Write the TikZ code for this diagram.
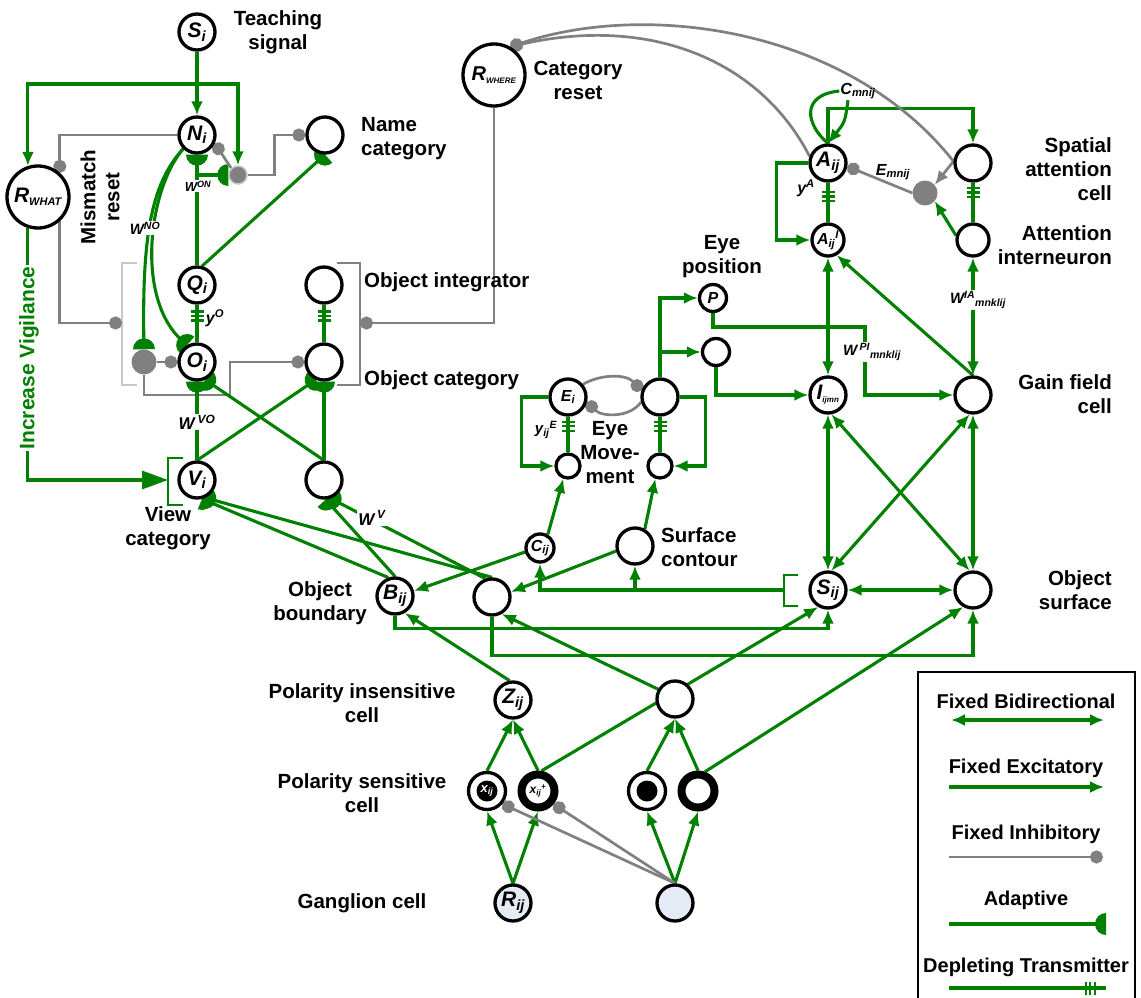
\documentclass[tikz,border=0pt]{standalone}
\usepackage{fontspec}
\setmainfont{Liberation Sans}
\usetikzlibrary{arrows.meta,positioning,decorations.markings}

\definecolor{ggreen}{HTML}{008000}
\definecolor{ggray}{HTML}{808080}
\definecolor{lgray}{HTML}{C8C8C8}
\definecolor{gcell}{HTML}{E4EBF5}

\pgfdeclarelayer{bg}
\pgfsetlayers{bg,main}

% adaptive synapse: half disc, flat side on the target
\pgfdeclarearrow{
  name = HalfDisc,
  parameters = {\the\pgfarrowlength},
  setup code = {
    \pgfarrowssettipend{0pt}
    \pgfarrowssetlineend{-.5\pgfarrowlength}
    \pgfarrowssetbackend{-\pgfarrowlength}
    \pgfarrowshullpoint{0pt}{\pgfarrowlength}
    \pgfarrowshullpoint{0pt}{-\pgfarrowlength}
    \pgfarrowshullpoint{-\pgfarrowlength}{0pt}
    \pgfarrowssavethe\pgfarrowlength
  },
  drawing code = {
    \pgfpathmoveto{\pgfqpoint{0pt}{\pgfarrowlength}}
    \pgfpatharc{90}{270}{\pgfarrowlength}
    \pgfpathclose
    \pgfusepathqfill
  },
  defaults = {length = 10pt}
}

\tikzset{
  cell/.style    = {draw, circle, line width=3.3pt, fill=white, inner sep=0pt,
                    minimum size=36pt, font=\fontsize{21}{21}\selectfont\bfseries\itshape},
  smalltext/.style = {font=\fontsize{16}{16}\selectfont\bfseries\itshape},
  small/.style   = {cell, minimum size=24pt},
  big/.style     = {cell, minimum size=62pt},
  ring/.style    = {cell, line width=8pt, minimum size=33pt,
                    font=\fontsize{12}{12}\selectfont\bfseries\itshape},
  core/.style    = {circle, fill=black, inner sep=0pt, minimum size=21pt,
                    font=\fontsize{13}{13}\selectfont\bfseries\itshape},
  retina/.style  = {cell, fill=gcell},
  gdot/.style    = {circle, fill=ggray, inner sep=0pt, minimum size=25pt},
  lbl/.style     = {font=\fontsize{20.5}{24}\selectfont\bfseries, align=center, inner sep=1pt},
  legtext/.style = {font=\fontsize{20}{20}\selectfont\bfseries, inner sep=1pt},
  wt/.style      = {font=\fontsize{#1}{#1}\selectfont\bfseries\itshape, inner sep=1pt},
  wt/.default    = 16,
  wtmask/.style  = {wt=#1, fill=white},
  wtmask/.default = 16,
  wire/.style    = {draw=ggreen, line width=3.1pt},
  exc/.style     = {wire, ->},
  bidir/.style   = {wire, <->},
  adapt/.style   = {wire, -{HalfDisc[length=11pt]}},
  inh/.style     = {draw=ggray, line width=2.7pt, -{Circle[length=13pt]}},
  depl/.style    = {wire, postaction={decorate, decoration={markings,
                    mark=at position #1 with {\draw[ggreen, line width=2.3pt]
                    (-4.5pt,-6.5pt) -- (-4.5pt,6.5pt) (0pt,-6.5pt) -- (0pt,6.5pt) (4.5pt,-6.5pt) -- (4.5pt,6.5pt);}}}},
  >={Latex[length=14pt,width=12pt]}
}

\begin{document}
\begin{tikzpicture}[x=1pt, y=-1pt]
\useasboundingbox (0,0) rectangle (1141,998);

% what stream
\node[cell] (si) at (197,32) {S\textsubscript{i}};
\node[cell] (ni) at (197,135) {N\textsubscript{i}};
\node[cell] (name) at (325,135) {};
\node[big] (rwhat) at (38,197) {R\textsubscript{\fontsize{11}{11}\selectfont WHAT}};
\node[cell] (qi) at (197,285) {Q\textsubscript{i}};
\node[cell] (oint) at (324,285) {};
\node[cell] (oi) at (197,362) {O\textsubscript{i}};
\node[cell] (ocat) at (324,362) {};
\node[cell] (vi) at (197,480) {V\textsubscript{i}};
\node[cell] (v2) at (324,480) {};
\node[gdot, minimum size=18pt, draw=lgray, line width=1.5pt] (jn) at (238,175) {};
\node[gdot] (mdot) at (144,362) {};

% where stream
\node[big, font=\fontsize{20}{20}\selectfont\bfseries\itshape] (rwhere) at (494,75) {R\textsubscript{\fontsize{8}{8}\selectfont WHERE}};
\node[cell] (aij) at (828,163) {A\textsubscript{ij}};
\node[cell, minimum size=32pt, smalltext] (aijI) at (828,240) {A\textsubscript{ij}\textsuperscript{I}};
\node[cell] (spat) at (973,163) {};
\node[cell, minimum size=32pt] (attint) at (973,240) {};
\node[gdot] (edot) at (925,193) {};
\node[cell, minimum size=27pt, smalltext] (pos) at (713,298) {P};
\node[cell, minimum size=27pt] (psm) at (716,352) {};
\node[cell, smalltext] (ei) at (568,397) {E\textsubscript{i}};
\node[cell] (em) at (660,397) {};
\node[small] (eis) at (568,466) {};
\node[small] (ems) at (660,466) {};
\node[cell] (iijmn) at (828,395) {I\textsubscript{\fontsize{8}{8}\selectfont ijmn}};
\node[cell] (gain) at (973,395) {};
\node[cell, minimum size=28pt, smalltext] (cij) at (540,548) {C\textsubscript{ij}};
\node[cell] (scont) at (635,546) {};
\node[cell] (bij) at (395,596) {B\textsubscript{ij}};
\node[cell] (b2) at (492,597) {};
\node[cell] (sij) at (828,590) {S\textsubscript{ij}};
\node[cell] (osurf) at (973,590) {};

% retina and polarity cells
\node[cell] (zij) at (513,700) {Z\textsubscript{ij}};
\node[cell] (z2) at (675,699) {};
\node[cell, minimum size=37pt] (xa) at (487,791) {};
\node[core, text=white] (xai) at (xa) {x\textsubscript{ij}};
\node[ring] (xb) at (538,791) {x\textsubscript{ij}\textsuperscript{+}};
\node[cell, minimum size=37pt] (xc) at (647,791) {};
\node[core] (xci) at (xc) {};
\node[ring] (xd) at (698,791) {};
\node[retina] (rij) at (513,903) {R\textsubscript{ij}};
\node[retina] (r2) at (675,903) {};

% captions
\node[lbl] (tsig) at (278,32) {Teaching\\signal};
\node[lbl, anchor=west, align=left] (ncat) at (360,139) {Name\\category};
\node[lbl, rotate=90] (mres) at (100,197) {Mismatch\\reset};
\node[lbl] (creset) at (578,80) {Category\\reset};
\node[lbl, anchor=west] (ointl) at (363,282) {Object integrator};
\node[lbl, anchor=west] (ocatl) at (363,380) {Object category};
\node[lbl] (vcat) at (168,528) {View\\category};
\node[lbl] (epos) at (722,257) {Eye\\position};
\node[lbl] (emov) at (610,453) {Eye\\Move-\\ment};
\node[lbl, anchor=west, align=left] (scl) at (660,547) {Surface\\contour};
\node[lbl] (obnd) at (320,603) {Object\\boundary};
\node[lbl, anchor=east, align=right] (spl) at (1113,169) {Spatial\\attention\\cell};
\node[lbl, anchor=east, align=right] (atl) at (1113,245) {Attention\\interneuron};
\node[lbl, anchor=east, align=right] (gfl) at (1113,394) {Gain field\\cell};
\node[lbl, anchor=east, align=right] (osl) at (1113,590) {Object\\surface};
\node[lbl] (pins) at (362,703) {Polarity insensitive\\cell};
\node[lbl] (psen) at (362,793) {Polarity sensitive\\cell};
\node[lbl] (gang) at (362,903) {Ganglion cell};
\node[rotate=90, fill=white, text=ggreen, inner sep=2pt,
      font=\fontsize{21}{21}\selectfont\bfseries] (incv) at (29,358) {Increase Vigilance};

% weights
\node[wtmask=13] (won) at (198,186) {W\textsuperscript{ON}};
\node[wtmask=15] (wno) at (145,228) {W\textsuperscript{NO}};
\node[wt] (yo) at (215,318) {y\textsuperscript{O}};
\node[wtmask=17] (wvo) at (197,422) {W\,\textsuperscript{VO}};
\node[wtmask=17] (wv) at (372,518) {W\,\textsuperscript{V}};
\node[wt=15] (yae) at (546,430) {y\textsubscript{ij}\textsuperscript{E}};
\node[wt] (ya) at (806,188) {y\textsuperscript{A}};
\node[wt] (cmn) at (858,91) {C\textsubscript{mnij}};
\node[wt] (emn) at (893,172) {E\textsubscript{mnij}};
\node[wtmask=15] (wia) at (978,300) {W\textsuperscript{IA}\textsubscript{mnklij}};
\node[wtmask=15] (wpi) at (872,352) {W\,\textsuperscript{PI}\textsubscript{mnklij}};

\begin{pgfonlayer}{bg}
% teaching signal, name and object categories
\coordinate (tsplit) at (197,84);
\draw[exc] (si) -- (ni);
\draw[exc] (tsplit) -| (rwhat.108);
\draw[exc] (tsplit) -| (jn.north);
\draw[inh] (ni.west) -| (rwhat.48);
\draw[adapt] (qi.north) -- (ni.south);
\coordinate (nq) at (197,175);
\draw[adapt] (nq) -- (jn.west);
\draw[inh] (jn.135) -- (ni.-25);
\draw[inh] (jn.east) -- ++(27,0) |- (name.west);
\draw[adapt] (qi.75) -- (name.south);
\draw[adapt] (ni.225) .. controls (150,185) and (142,240) .. (mdot.north);
\draw[adapt] (ni.225) .. controls (148,190) and (135,300) .. (oi.120);
\draw[depl=.3] (qi) -- (oi);
\draw[depl=.3] (oint) -- (ocat);

% reset brackets
\draw[lgray, line width=2.7pt] (137,263) -- (122,263) -- (122,385) -- (137,385);
\draw[ggray, line width=2.7pt] (337,263) -- (360,263) -- (360,385) -- (337,385);
\coordinate (lbr) at (122,323);
\coordinate (rbr) at (360,323);
\draw[inh] (rwhat.-48) |- (lbr);
\draw[inh] (rwhere.south) |- (rbr);
\draw[inh] (mdot.east) -- (oi.west);
\draw[inh] (mdot.south) |- (230,395) |- (ocat.west);

% view categories
\draw[adapt] (vi.north) -- (oi.south);
\draw[adapt] (v2.north) -- (oi.-65);
\draw[adapt] (vi.north) -- (ocat.-115);
\draw[adapt] (v2.north) -- (ocat.south);
\draw[ggreen, line width=2.9pt] (183,458) -- (168,458) -- (168,505) -- (183,505);
\coordinate (vbr) at (168,480);
\draw[wire, -{Triangle[length=26pt,width=18pt]}] (rwhat.252) |- (vbr);
\draw[adapt] (bij.110) -- (vi.-75);
\draw[adapt] (b2.north) -- (vi.-65);
\draw[adapt] (bij.north) -- (v2.-85);
\draw[adapt] (b2.110) -- (v2.-70);

% boundaries, surfaces and eye movements
\draw[exc] (cij.195) -- (bij.15);
\draw[exc] (scont.195) -- (b2.15);
\draw[exc] (cij.60) -- (eis.-110);
\draw[exc] (scont.60) -- (ems.-110);
\draw[ggreen, line width=2.9pt] (798,575) -- (784,575) -- (784,606) -- (798,606);
\coordinate (sbr) at (784,590);
\draw[exc] (sbr) -| (cij.south);
\draw[exc] (scont.south |- sbr) -- (scont.south);
\draw[exc] (ei.west) -- ++(-27,0) |- (eis.west);
\draw[exc] (em.east) -- ++(26,0) |- (ems.east);
\draw[depl=.27] (ei) -- (eis);
\draw[depl=.27] (em) -- (ems);
\draw[inh] (ei.40) .. controls (598,375) and (625,373) .. (em.160);
\draw[inh] (em.195) .. controls (630,418) and (602,417) .. (ei.-15);
\draw[exc] (em.north) |- (pos.west);
\draw[exc] (em.north |- psm.west) -- (psm.west);
\draw[exc] (pos.south) |- (865,327) |- (gain.west);
\draw[exc] (psm.south) |- (iijmn.west);

% spatial attention
\draw[exc] (aij.north) -- ++(0,-35) -| (spat.north);
\draw[wire] (aij.north) .. controls (806,125) and (800,95) .. (cmn.west);
\draw[exc] ([xshift=-10pt]cmn.south) .. controls (845,122) .. (aij.north);
\draw[exc] (aij.west) -- ++(-32,0) |- (aijI.west);
\draw[depl=.35] (aij) -- (aijI);
\draw[depl=.25] (spat) -- (attint);
\draw[inh] (edot.west) -- (aij.-10);
\draw[exc] (attint.165) -- (edot.-40);
\draw[inh] (aij.160) .. controls (760,60) and (650,15) .. (rwhere.60);
\draw[draw=ggray, line width=2.7pt, {Circle[length=13pt]}-{Latex[length=14pt,width=12pt]}]
  (rwhere.60) .. controls (650,0) and (850,30) .. (spat.175) -- (edot.40);

% gain fields
\draw[bidir] (aijI) -- (iijmn);
\draw[exc] (gain.north) -- (aijI.-60);
\draw[bidir] (attint) -- (gain);
\foreach \pa/\pb in {iijmn/sij, gain/osurf, sij/osurf}
  \draw[bidir] (\pa) -- (\pb);
\draw[bidir] (iijmn.-80) -- (osurf.100);
\draw[bidir] (gain.-100) -- (sij.80);

% retina up to boundaries and surfaces
\draw[exc] (zij.100) -- (bij.-60);
\draw[exc] (z2.150) -- (b2.-60);
\draw[exc] (xb.80) -- (sij.-120);
\draw[exc] (xd.70) -- (osurf.-120);
\draw[exc] (bij.south) -- ++(0,13) -| (sij.south);
\draw[exc] (b2.south) -- ++(0,39) -| (osurf.south);
\foreach \pa/\pb in {xa/zij, xb/zij, xc/z2, xd/z2}
  \draw[exc] (\pa.north) -- (\pb.south);
\foreach \pa/\pb in {rij/xa, rij/xb, r2/xc, r2/xd}
  \draw[exc] (\pa.north) -- (\pb.south);
\draw[inh] (r2.north) -- (xa.-40);
\draw[inh] (r2.north) -- (xb.-40);
\end{pgfonlayer}

% legend
\draw[line width=1.2pt] (918,1000) -- (918,672) -- (1135,672) -- (1135,1000);
\node[legtext] (lg1) at (1026,701) {Fixed Bidirectional};
\node[legtext] (lg2) at (1026,768) {Fixed Excitatory};
\node[legtext] (lg3) at (1026,834) {Fixed Inhibitory};
\node[legtext] (lg4) at (1026,900) {Adaptive};
\node[legtext] (lg5) at (1026,967) {Depleting Transmitter};
\coordinate (l1a) at (951,720);  \coordinate (l1b) at (1104,720);
\coordinate (l2a) at (949,787);  \coordinate (l2b) at (1104,787);
\coordinate (l3a) at (949,857);  \coordinate (l3b) at (1103,857);
\coordinate (l4a) at (949,924);  \coordinate (l4b) at (1106,924);
\coordinate (l5a) at (949,988);  \coordinate (l5b) at (1106,988);
\draw[bidir] (l1a) -- (l1b);
\draw[exc] (l2a) -- (l2b);
\draw[inh] (l3a) -- (l3b);
\draw[adapt] (l4a) -- (l4b);
\draw[depl=.9] (l5a) -- (l5b);

\end{tikzpicture}
\end{document}
